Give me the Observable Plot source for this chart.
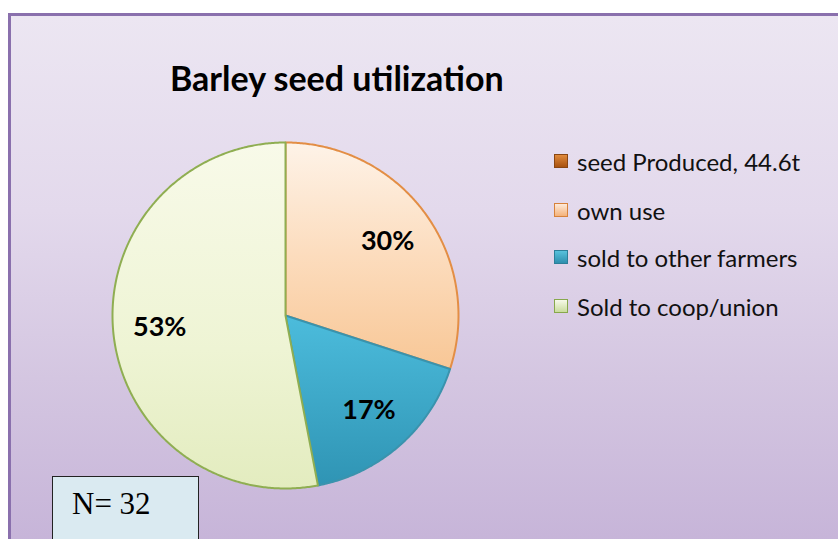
<!DOCTYPE html>
<html>
<head>
<meta charset="utf-8">
<script src="https://cdn.jsdelivr.net/npm/d3@7"></script>
<script src="https://cdn.jsdelivr.net/npm/@observablehq/plot@0.6"></script>
<style>
  html, body { margin: 0; padding: 0; background: #ffffff; }
  #wrap { position: relative; width: 838px; height: 539px; overflow: hidden; background: #fff; }
  #frame { position: absolute; left: 8px; top: 13px; width: 860px; height: 560px;
    border-left: 3px solid #8a70ad; border-top: 3px solid #8a70ad; box-sizing: border-box;
    background: linear-gradient(to bottom, #ece6f2 0%, #e3d9ec 35%, #d4c6e1 65%, #c4b1d7 100%); }
  #title { position: absolute; left: 170px; top: 57px; font-family: Lato, "Open Sans", sans-serif;
    font-weight: 700; font-size: 34px; color: #000; white-space: nowrap; }
  #legend { position: absolute; left: 554px; top: 146px; font-family: Lato, "Open Sans", sans-serif;
    font-size: 24px; color: #111; }
  .row { position: absolute; left: 0; height: 30px; display: flex; align-items: center; white-space: nowrap; }
  .sw { width: 14px; height: 14px; margin-right: 9px; box-sizing: border-box; }
  #nbox { position: absolute; left: 52px; top: 476px; width: 147px; height: 80px; background: #daeaf1;
    border: 1px solid #222; box-sizing: border-box; font-family: "Liberation Serif", "Times New Roman", serif;
    font-size: 31px; color: #000; padding-left: 19px; padding-top: 9px; }
  #chart { position: absolute; left: 0; top: 0; }
</style>
</head>
<body>
<div id="wrap">
  <div id="frame"></div>
  <div id="title"></div>
  <div id="chart"></div>
  <div id="legend"></div>
  <div id="nbox"></div>
</div>
<script>
// ---- data ----
const titleText = "Barley seed utilization";
const categories = ["seed Produced, 44.6t", "own use", "sold to other farmers", "Sold to coop/union"];
const shares = [0, 30, 17, 53];
const labels = ["", "30%", "17%", "53%"];
const sampleNote = "N= 32";

// ---- styles ----
const fills = ["#c0651d", "url(#gOwn)", "url(#gBlue)", "url(#gCoop)"];
const strokes = ["#8a4612", "#e38e45", "#3a93ad", "#8fae52"];
const swatch = ["linear-gradient(#e08a3c,#a9520f)", "linear-gradient(#fdeada,#f4b27a)", "linear-gradient(#58c1dc,#2e8fae)", "linear-gradient(#f7faea,#c9dc9c)"];
const swBorder = ["#8a4612", "#d7823a", "#2c7f99", "#87a84c"];

document.getElementById("title").textContent = titleText;
document.getElementById("nbox").textContent = sampleNote;

const rows = [0, 49, 96, 145];
const leg = document.getElementById("legend");
categories.forEach((c, i) => {
  const r = document.createElement("div");
  r.className = "row";
  r.style.top = rows[i] + "px";
  const s = document.createElement("div");
  s.className = "sw";
  s.style.background = swatch[i];
  s.style.border = "1px solid " + swBorder[i];
  const t = document.createElement("span");
  t.textContent = c;
  r.appendChild(s); r.appendChild(t);
  leg.appendChild(r);
});

// ---- pie geometry from data ----
const arcs = d3.pie().sort(null).value(d => d.share).startAngle(0).endAngle(2 * Math.PI)(
  categories.map((c, i) => ({category: c, share: shares[i], idx: i}))
).filter(a => a.data.share > 0);

const pts = [];
for (const a of arcs) {
  const n = Math.max(2, Math.ceil((a.endAngle - a.startAngle) / (Math.PI / 360)));
  pts.push({k: a.data.idx, x: 0, y: 0});
  for (let j = 0; j <= n; j++) {
    const t = a.startAngle + (a.endAngle - a.startAngle) * j / n;
    pts.push({k: a.data.idx, x: Math.sin(t), y: Math.cos(t)});
  }
  pts.push({k: a.data.idx, x: 0, y: 0});
}
const labelPts = arcs.map(a => {
  const m = (a.startAngle + a.endAngle) / 2;
  return {x: 0.73 * Math.sin(m), y: 0.73 * Math.cos(m), text: labels[a.data.idx]};
});

const R = 173, cx = 285, cy = 315;
const plot = Plot.plot({
  width: 838, height: 539,
  margin: 0,
  style: {background: "transparent", overflow: "visible"},
  x: {domain: [-1, 1], range: [cx - R, cx + R], axis: null},
  y: {domain: [-1, 1], range: [cy + R, cy - R], axis: null},
  marks: [
    Plot.line(pts, {x: "x", y: "y", z: "k", fill: d => fills[d.k], stroke: d => strokes[d.k],
      strokeWidth: 2, strokeLinejoin: "round", curve: "linear"}),
    Plot.text(labelPts, {x: "x", y: "y", text: "text", fontSize: 27, fontWeight: "bold",
      fontFamily: "Lato, 'Open Sans', sans-serif", fill: "#000"})
  ]
});

const ns = "http://www.w3.org/2000/svg";
const defs = document.createElementNS(ns, "defs");
defs.innerHTML = `
  <linearGradient id="gOwn" x1="0" y1="0" x2="0" y2="1" gradientUnits="objectBoundingBox">
    <stop offset="0" stop-color="#fef3e8"/><stop offset="0.5" stop-color="#fcdcbd"/><stop offset="1" stop-color="#f8c796"/>
  </linearGradient>
  <linearGradient id="gBlue" x1="0" y1="0" x2="0" y2="1">
    <stop offset="0" stop-color="#4cbcdc"/><stop offset="1" stop-color="#2f94b4"/>
  </linearGradient>
  <linearGradient id="gCoop" x1="0" y1="0" x2="0" y2="1">
    <stop offset="0" stop-color="#f8fae9"/><stop offset="0.6" stop-color="#eef4d4"/><stop offset="1" stop-color="#e3ecbf"/>
  </linearGradient>`;
plot.insertBefore(defs, plot.firstChild);
document.getElementById("chart").appendChild(plot);
</script>
</body>
</html>
